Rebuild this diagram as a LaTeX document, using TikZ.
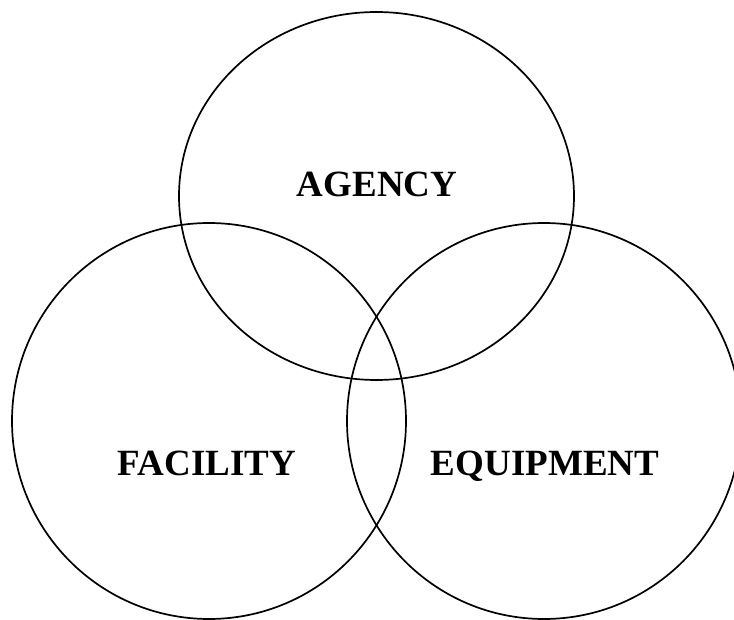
\documentclass[tikz,border=0pt]{standalone}
\usepackage{fontspec}
\setmainfont{Liberation Serif}
\begin{document}
\begin{tikzpicture}[x=1pt,y=-1pt,
  ring/.style={draw=black,line width=1.7pt},
  label/.style={font=\fontsize{37}{40}\selectfont\bfseries,anchor=base,inner sep=0pt}]
  \useasboundingbox (0,0) rectangle (734,620);
  \clip (0,0) rectangle (734,620);
  % the three overlapping areas
  \draw[ring] (376.5,196) ellipse [x radius=197.5, y radius=184];
  \draw[ring] (209,421) ellipse [x radius=197, y radius=198];
  \draw[ring] (544,421) ellipse [x radius=197, y radius=198];
  % their names
  \node[label] (agency) at (377,197) {AGENCY};
  \node[label] (facility) at (207,475) {FACILITY};
  \node[label] (equipment) at (545,475) {EQUIPMENT};
\end{tikzpicture}
\end{document}
